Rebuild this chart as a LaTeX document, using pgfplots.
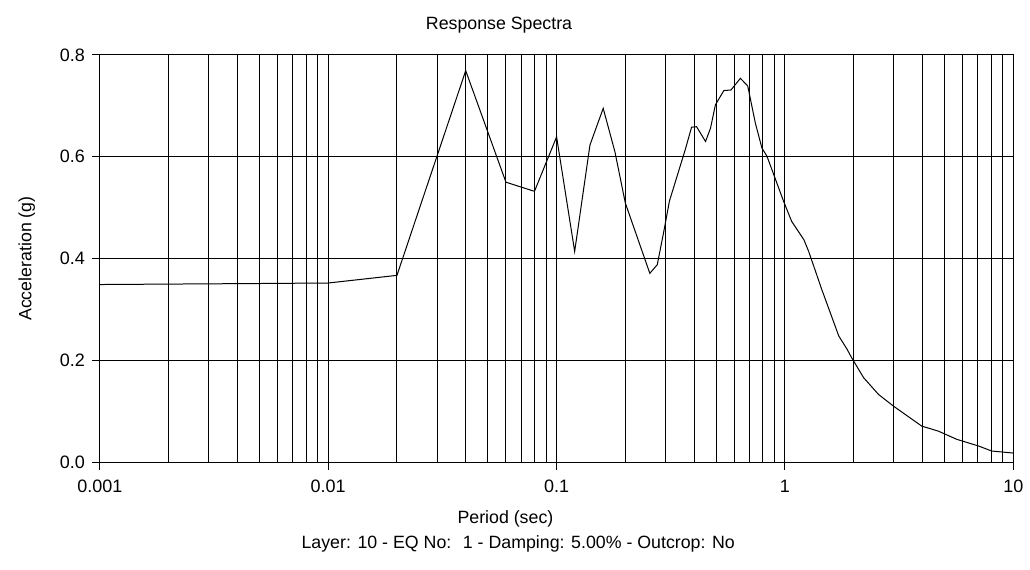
\documentclass[border=0pt]{standalone}
\usepackage{fontspec}
\setmainfont{Liberation Sans}
\usepackage{pgfplots}
\pgfplotsset{compat=1.18}

\begin{document}
\begin{tikzpicture}
\begin{axis}[
  scale only axis,
  width=457.5pt, height=204pt,
  xmode=log,
  xmin=0.001, xmax=10,
  ymin=0, ymax=0.8,
  ytick={0,0.2,0.4,0.6,0.8},
  yticklabel style={/pgf/number format/.cd, fixed, fixed zerofill, precision=1},
  xtick={0.001,0.01,0.1,1,10},
  xticklabels={0.001,0.01,0.1,1,10},
  xticklabel style={yshift=-1.5pt},
  /pgf/number format/assume math mode=true,
  ticklabel style={font=\fontsize{9}{10}\selectfont},
  tick align=outside,
  tick pos=left,
  xtick style={black, line width=0.5pt},
  ytick style={black, line width=0.5pt},
  major tick length=4pt,
  minor tick length=0pt,
  xmajorgrids, xminorgrids, ymajorgrids,
  major grid style={black, line width=0.5pt},
  minor grid style={black, line width=0.5pt},
  axis line style={black, line width=0.6pt},
  clip=false,
  xlabel={Period (sec)},
  xlabel style={font=\fontsize{8.9}{10}\selectfont, at={(axis description cs:0.444,-0.140)}, anchor=center},
  ylabel={Acceleration (g)},
  ylabel style={font=\fontsize{8.9}{10}\selectfont, at={(axis description cs:-0.080,0.5)}, anchor=center},
]
\addplot[black, line width=0.5pt] coordinates {
  (0.001,0.349) (0.005,0.351) (0.01,0.352) (0.02,0.367) (0.04,0.769)
  (0.06,0.550) (0.08,0.532) (0.1,0.639) (0.12,0.414) (0.14,0.623)
  (0.16,0.695) (0.18,0.610) (0.2,0.509) (0.256,0.371) (0.276,0.388)
  (0.295,0.454) (0.312,0.513) (0.366,0.614) (0.39,0.658) (0.41,0.659)
  (0.449,0.630) (0.472,0.656) (0.496,0.702) (0.54,0.730) (0.58,0.731)
  (0.638,0.754) (0.687,0.739) (0.742,0.666) (0.793,0.617) (0.834,0.601)
  (0.987,0.512) (1.07,0.473) (1.21,0.437) (1.27,0.414) (1.45,0.339)
  (1.72,0.248) (1.87,0.222) (1.96,0.205) (2.21,0.166) (2.57,0.133)
  (2.99,0.110) (3.97,0.071) (4.70,0.061) (5.65,0.045) (7.03,0.032)
  (8.04,0.022) (10,0.018)
};
\node[font=\fontsize{8.9}{10}\selectfont] at (axis description cs:0.437,1.074) {Response Spectra};
\node[font=\fontsize{8.9}{10}\selectfont] at (axis description cs:0.458,-0.200) {Layer: 10 - EQ No: ~1 - Damping: 5.00\% - Outcrop: No};
\path (axis description cs:-0.1093,-0.2623) rectangle (axis description cs:1.0164,1.1348);
\end{axis}
\end{tikzpicture}
\end{document}
